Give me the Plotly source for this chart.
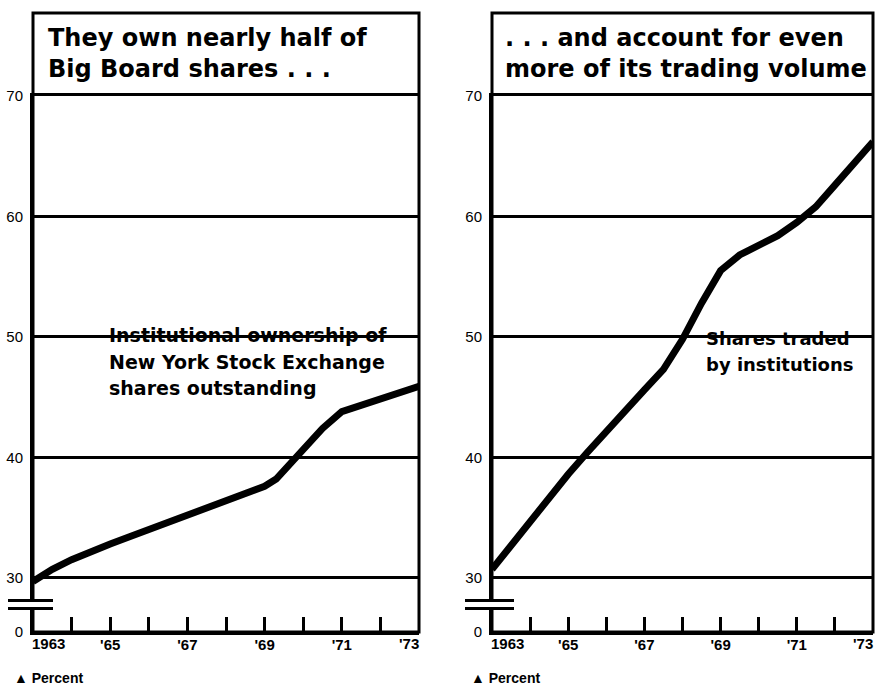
import plotly.graph_objects as go

W, H = 880, 686

# ---- data ----
own_years = [1963.0, 1963.5, 1964.0, 1964.5, 1965.0, 1965.5, 1966.0, 1966.5, 1967.0, 1967.5,
             1968.0, 1968.5, 1969.0, 1969.3, 1969.6, 1970.0, 1970.5, 1971.0, 1971.5, 1972.0,
             1972.5, 1973.0]
own_pct = [29.7, 30.7, 31.5, 32.2, 32.8, 33.4, 34.0, 34.5, 35.1, 35.7,
           36.3, 37.0, 37.6, 38.2, 39.2, 40.6, 42.4, 43.8, 44.3, 44.8,
           45.4, 45.9]

vol_years = [1963.0, 1963.5, 1964.0, 1964.5, 1965.0, 1965.5, 1966.0, 1966.5, 1967.0, 1967.5,
             1968.0, 1968.5, 1969.0, 1969.5, 1970.0, 1970.5, 1971.0, 1971.5, 1972.0, 1972.5,
             1973.0]
vol_pct = [30.7, 32.7, 34.6, 36.6, 38.6, 40.4, 42.2, 44.0, 45.6, 47.3,
           49.8, 52.8, 55.5, 56.8, 57.6, 58.4, 59.5, 60.8, 62.6, 64.4,
           66.2]

year_ticks = list(range(1963, 1974))
year_labels = ["", "", "'65", "", "'67", "", "'69", "", "'71", "", ""]
first_year_label = "1963"
last_year_label = "'73"
y_ticks = [25.5, 30, 40, 50, 60, 70]
y_labels = ["0", "30", "40", "50", "60", "70"]

left_title = ["They own nearly half of", "Big Board shares . . ."]
right_title = [". . . and account for even", "more of its trading volume"]
left_note = ["Institutional ownership of", "New York Stock Exchange", "shares outstanding"]
right_note = ["Shares traded", "by institutions"]

# ---- helpers ----
def px(x):
    return x / W

def py(y):
    return 1 - y / H

Y0, Y1 = 632, 96          # pixel rows of the plot domain bottom / top
L0, L1 = 33, 419          # left panel
R0, R1 = 492, 873         # right panel
TITLE_TOP = 13

fig = go.Figure()
fig.add_trace(go.Scatter(x=own_years, y=own_pct, mode="lines", xaxis="x", yaxis="y",
                         line=dict(color="black", width=7), showlegend=False))
fig.add_trace(go.Scatter(x=vol_years, y=vol_pct, mode="lines", xaxis="x2", yaxis="y2",
                         line=dict(color="black", width=7), showlegend=False))

xfont = dict(family="Liberation Sans", size=15, color="black", weight="bold")

def xaxis_cfg(d0, d1, anchor):
    return dict(domain=[px(d0), px(d1)], range=[1963, 1973], anchor=anchor,
                tickvals=year_ticks, ticktext=year_labels, ticks="inside", ticklen=15,
                tickwidth=3, tickcolor="black", showgrid=False, zeroline=False,
                showline=True, linecolor="black", linewidth=3, mirror=True,
                tickfont=xfont, ticklabelstandoff=-3, automargin=False, fixedrange=True)

def yaxis_cfg(anchor):
    return dict(domain=[py(Y0), py(Y1)], range=[25.5, 70], anchor=anchor,
                tickvals=y_ticks, ticktext=y_labels, ticks="", showgrid=True,
                gridcolor="black", gridwidth=2.5, zeroline=False, showline=True,
                linecolor="black", linewidth=3, mirror=False,
                tickfont=dict(family="Liberation Sans", size=15, color="black"),
                ticklabelstandoff=4, automargin=False, fixedrange=True)

shapes = []
annotations = []

for (a0, a1, bx0, bx1, pl, xr) in [(L0, L1, 8, 53, 12, "x"), (R0, R1, 465, 514, 469, "x2")]:
    # whole frame: title box plus plot area
    shapes.append(dict(type="rect", xref="paper", yref="paper", x0=px(a0), x1=px(a1),
                       y0=py(Y0), y1=py(TITLE_TOP), line=dict(color="black", width=3),
                       fillcolor="rgba(0,0,0,0)", layer="above"))
    # axis break
    shapes.append(dict(type="rect", xref="paper", yref="paper", x0=px(a0 - 4), x1=px(a0 + 4),
                       y0=py(607), y1=py(602), line=dict(width=0), fillcolor="white", layer="above"))
    for yy in (600.5, 608.5):
        shapes.append(dict(type="line", xref="paper", yref="paper", x0=px(bx0), x1=px(bx1),
                           y0=py(yy), y1=py(yy), line=dict(color="black", width=3), layer="above"))
    # first and last year labels, kept inside the frame edges
    annotations.append(dict(text=first_year_label, xref=xr, yref="paper", x=year_ticks[0], y=py(643),
                            xanchor="left", yanchor="middle", showarrow=False, xshift=-3, font=xfont))
    annotations.append(dict(text=last_year_label, xref=xr, yref="paper", x=year_ticks[-1], y=py(643),
                            xanchor="right", yanchor="middle", showarrow=False, xshift=2, font=xfont))
    # percent note
    annotations.append(dict(text="<b>▲ Percent</b>", xref="paper", yref="paper", x=px(pl), y=py(678),
                            xanchor="left", yanchor="middle", showarrow=False,
                            font=dict(family="Liberation Sans", size=14, color="black")))

title_font = dict(family="DejaVu Sans", size=24, color="black", weight="bold")
for i, t in enumerate(left_title):
    annotations.append(dict(text=t, xref="paper", yref="paper", x=px(46), y=py([38, 69][i]),
                            xanchor="left", yanchor="middle", showarrow=False, font=title_font))
for i, t in enumerate(right_title):
    annotations.append(dict(text=t, xref="paper", yref="paper", x=px(503), y=py([38, 69][i]),
                            xanchor="left", yanchor="middle", showarrow=False, font=title_font))

for i, t in enumerate(left_note):
    annotations.append(dict(text=t, xref="paper", yref="paper", x=px(107), y=py([335, 362, 388][i]),
                            xanchor="left", yanchor="middle", showarrow=False,
                            font=dict(family="DejaVu Sans", size=19, color="black", weight="bold")))
for i, t in enumerate(right_note):
    annotations.append(dict(text=t, xref="paper", yref="paper", x=px(704), y=py([338, 364][i]),
                            xanchor="left", yanchor="middle", showarrow=False,
                            font=dict(family="DejaVu Sans", size=18, color="black", weight="bold")))

fig.update_layout(
    width=W, height=H, margin=dict(l=0, r=0, t=0, b=0),
    paper_bgcolor="white", plot_bgcolor="white",
    xaxis=xaxis_cfg(L0, L1, "y"), yaxis=yaxis_cfg("x"),
    xaxis2=xaxis_cfg(R0, R1, "y2"), yaxis2=yaxis_cfg("x2"),
    shapes=shapes, annotations=annotations, showlegend=False,
)

fig.write_html("out.html")
